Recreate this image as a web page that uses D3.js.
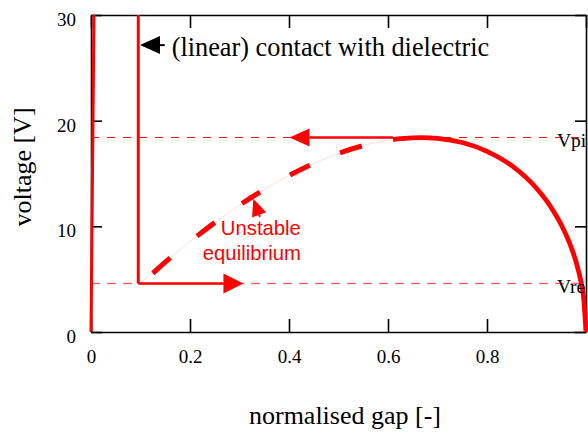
<!DOCTYPE html>
<html><head><meta charset="utf-8">
<script src="https://cdn.jsdelivr.net/npm/d3@7"></script>
<style>body{margin:0;background:#fff}</style>
</head><body><svg id="c" width="588" height="433"></svg>
<script>
// ---- data ----
const xTicks = [0, 0.2, 0.4, 0.6, 0.8];
const yTicks = [0, 10, 20, 30];
const vPullIn = 18.4;
const vRelease = 4.6;
// unstable (dashed) branch of the equilibrium curve
const gapUnstable  = [0.0955, 0.12, 0.15, 0.2, 0.25, 0.3, 0.35, 0.4, 0.45, 0.5, 0.55, 0.6, 0.61];
const voltUnstable = [4.6, 5.38, 6.61, 8.55, 10.35, 12.0, 13.49, 14.81, 15.95, 16.9, 17.64, 18.14, 18.2];
// stable (solid) branch
const gapStable  = [0.61, 0.62, 0.65, 0.667, 0.7, 0.75, 0.8, 0.85, 0.9, 0.93, 0.95, 0.97, 0.98, 0.99, 0.995, 1.0];
const voltStable = [18.2, 18.27, 18.38, 18.4, 18.33, 17.93, 17.1, 15.74, 13.6, 11.76, 10.15, 8.03, 6.63, 4.73, 3.36, 0];
// contact lines
const contactGap = [0, 0.006], contactVolt = [0, 30];
const dielGap = [0.0955, 0.0955], dielVolt = [30, 4.6];
// thick dash pieces on unstable branch (gap ranges)
const unstableDashes = [[0.125, 0.16], [0.214, 0.25], [0.305, 0.341], [0.402, 0.442], [0.503, 0.547]];
// arrows (gap values)
const pullInArrow = {from: 0.61, to: 0.401, v: vPullIn};
const releaseArrow = {from: 0.0955, to: 0.308, v: vRelease};
const contactArrow = {from: 0.149, to: 0.099, v: 27.15};
const unstableArrowTip = {g: 0.328, v: 12.6};
const labelVpi = "Vpi", labelVre = "Vre";

// ---- layout ----
const svg = d3.select("#c");
svg.append("rect").attr("width", 588).attr("height", 433).attr("fill", "#fff");
const x = d3.scaleLinear().domain([0, 1]).range([91, 586]);
const y = d3.scaleLinear().domain([0, 30]).range([332, 15]);
const serif = "'Liberation Serif','Times New Roman',serif";
const sans = "'Liberation Sans',Arial,sans-serif";
const RED = "#ff0000";

// axes (ticks inward)
const tickX = 13, tickY = 11;
const axB = svg.append("g").attr("transform", `translate(0,${y(0)})`)
  .call(d3.axisBottom(x).tickValues(xTicks).tickSizeInner(-tickX).tickSizeOuter(0).tickPadding(18).tickFormat(d3.format("")));
const axT = svg.append("g").attr("transform", `translate(0,${y(30)})`)
  .call(d3.axisTop(x).tickValues(xTicks.concat([1])).tickSizeInner(-tickX).tickSizeOuter(0).tickFormat(""));
const axL = svg.append("g").attr("transform", `translate(${x(0)},0)`)
  .call(d3.axisLeft(y).tickValues(yTicks).tickSizeInner(-tickY).tickSizeOuter(0).tickPadding(15).tickFormat(d3.format("")));
const axR = svg.append("g").attr("transform", `translate(${x(1)},0)`)
  .call(d3.axisRight(y).tickValues(yTicks).tickSizeInner(-tickY).tickSizeOuter(0).tickFormat(""));
[axB, axT, axL, axR].forEach(a => {
  a.selectAll(".domain").attr("stroke", "#000").attr("stroke-width", 1.6);
  a.selectAll(".tick line").attr("stroke", "#000").attr("stroke-width", 1.6);
  a.selectAll("text").attr("font-family", serif).attr("font-size", 19).attr("fill", "#000");
});
axB.selectAll(".tick text").attr("dy", "0.71em");
axL.selectAll(".tick text").attr("dy", "0.55em");

// reference lines
svg.append("line").attr("x1", x(0)).attr("x2", x(1)).attr("y1", y(vPullIn)).attr("y2", y(vPullIn))
  .attr("stroke", RED).attr("stroke-width", 1).attr("stroke-dasharray", "8,8");
svg.append("line").attr("x1", x(0)).attr("x2", x(1)).attr("y1", y(vRelease)).attr("y2", y(vRelease))
  .attr("stroke", "#ff6a6a").attr("stroke-width", 1.5).attr("stroke-dasharray", "9,7");

const line = d3.line().x(d => x(d[0])).y(d => y(d[1]));
const zip = (a, b) => a.map((v, i) => [v, b[i]]);

// contact lines
svg.append("path").attr("d", line(zip(contactGap, contactVolt))).attr("fill", "none")
  .attr("stroke", RED).attr("stroke-width", 3);
svg.append("path").attr("d", line(zip(dielGap, dielVolt))).attr("fill", "none")
  .attr("stroke", RED).attr("stroke-width", 3);

// unstable branch: faint thin line + thick dashes
const lineC = d3.line().curve(d3.curveMonotoneX).x(d => x(d[0])).y(d => y(d[1]));
const uData = zip(gapUnstable, voltUnstable);
svg.append("path").attr("d", lineC(uData)).attr("fill", "none")
  .attr("stroke", "#ff9a9a").attr("stroke-width", 0.6).attr("stroke-opacity", 0.6);
const thick = svg.append("path").attr("d", lineC(uData)).attr("fill", "none")
  .attr("stroke", RED).attr("stroke-width", 5);
const node = thick.node();
const total = node.getTotalLength();
function lenAt(px) {
  let lo = 0, hi = total;
  for (let i = 0; i < 40; i++) {
    const mid = (lo + hi) / 2;
    if (node.getPointAtLength(mid).x < px) lo = mid; else hi = mid;
  }
  return (lo + hi) / 2;
}
const da = [0];
let prev = 0;
unstableDashes.forEach(([a, b]) => {
  const la = lenAt(x(a)), lb = lenAt(x(b));
  da.push(la - prev, lb - la);
  prev = lb;
});
da.push(total + 100);
thick.attr("stroke-dasharray", da.join(","));

// stable branch
svg.append("path").attr("d", lineC(zip(gapStable, voltStable))).attr("fill", "none")
  .attr("stroke", RED).attr("stroke-width", 4.8).attr("stroke-linejoin", "round");

// arrow helper
function arrow(x1, y1, x2, y2, color, w, hl, hw) {
  const ang = Math.atan2(y2 - y1, x2 - x1);
  const bx = x2 - hl * Math.cos(ang), by = y2 - hl * Math.sin(ang);
  svg.append("line").attr("x1", x1).attr("y1", y1).attr("x2", bx).attr("y2", by)
    .attr("stroke", color).attr("stroke-width", w);
  const px = -Math.sin(ang) * hw, py = Math.cos(ang) * hw;
  svg.append("path").attr("d", `M${x2},${y2}L${bx + px},${by + py}L${bx - px},${by - py}Z`).attr("fill", color);
}
arrow(x(pullInArrow.from), y(pullInArrow.v), x(pullInArrow.to), y(pullInArrow.v), RED, 2.5, 20, 9);
arrow(x(releaseArrow.from), y(releaseArrow.v), x(releaseArrow.to), y(releaseArrow.v), RED, 2.5, 20, 10);
arrow(x(contactArrow.from), y(contactArrow.v), x(contactArrow.to), y(contactArrow.v), "#000", 2, 20, 9);
{
  const tx = x(unstableArrowTip.g), ty = y(unstableArrowTip.v);
  arrow(tx + 6.5, ty + 18, tx, ty, RED, 2, 17, 7.5);
}

// texts
svg.append("text").attr("x", x(0.163)).attr("y", y(26.1)).attr("font-family", serif).attr("font-size", 26.3)
  .attr("fill", "#000").text("(linear) contact with dielectric");
const ut = svg.append("text").attr("font-family", sans).attr("font-size", 20.3).attr("fill", RED).attr("text-anchor", "end");
ut.append("tspan").attr("x", x(0.424)).attr("y", y(9.2)).text("Unstable");
ut.append("tspan").attr("x", x(0.424)).attr("y", y(6.8)).text("equilibrium");
svg.append("text").attr("x", 557).attr("y", y(vPullIn) + 9).attr("font-family", serif).attr("font-size", 19.5)
  .attr("fill", "#000").text(labelVpi);
svg.append("text").attr("x", 557).attr("y", y(vRelease) + 10).attr("font-family", serif).attr("font-size", 19.5)
  .attr("fill", "#000").text(labelVre);

svg.append("text").attr("x", 345).attr("y", 424).attr("text-anchor", "middle").attr("font-family", serif)
  .attr("font-size", 26).text("normalised gap [-]");
svg.append("text").attr("transform", "translate(31,167) rotate(-90)").attr("text-anchor", "middle")
  .attr("font-family", serif).attr("font-size", 26).text("voltage [V]");
</script></body></html>
